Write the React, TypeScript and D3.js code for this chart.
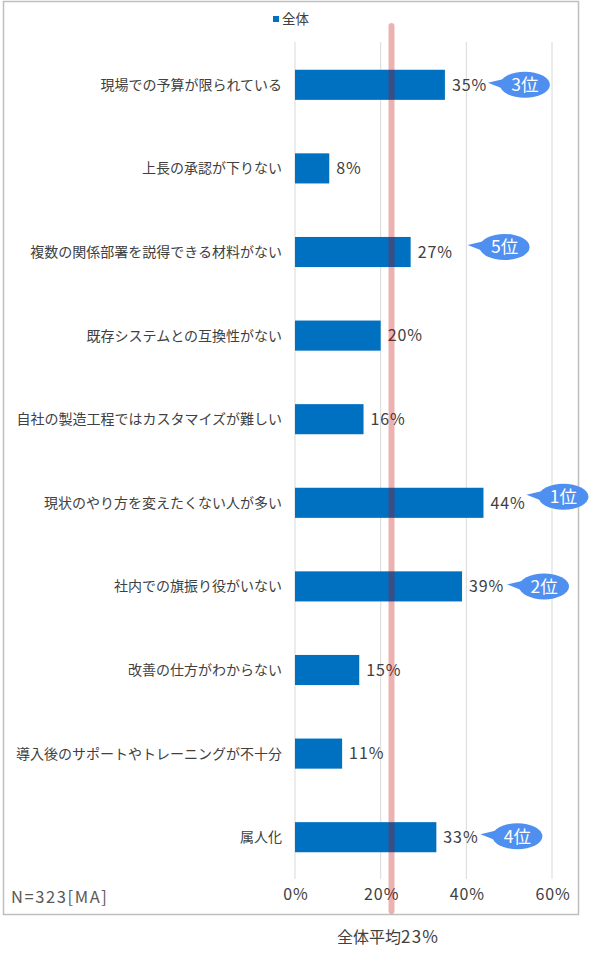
import * as d3 from 'd3';
import React from 'react';

const width = 595;
const height = 954;
const margin = { top: 43, right: 43, bottom: 75, left: 295 };

const categories = [
  '現場での予算が限られている',
  '上長の承認が下りない',
  '複数の関係部署を説得できる材料がない',
  '既存システムとの互換性がない',
  '自社の製造工程ではカスタマイズが難しい',
  '現状のやり方を変えたくない人が多い',
  '社内での旗振り役がいない',
  '改善の仕方がわからない',
  '導入後のサポートやトレーニングが不十分',
  '属人化',
];
const values = [35, 8, 27, 20, 16, 44, 39, 15, 11, 33];
const ticks = [0, 20, 40, 60];
const average = 23;

// rank callouts: row index -> label
const rankRows = [5, 6, 0, 9, 2];
const rankLabels = ['1位', '2位', '3位', '4位', '5位'];
const rankGap = [80, 82, 80, 81, 94];
const rankLift = [-6, 0, 0, -1, -5];

const seriesName = '全体';
const sampleNote = 'N=323[MA]';
const averageLabel = '全体平均';

const font = "'Noto Sans CJK JP', 'Noto Sans', sans-serif";
const textColor = '#404040';

export default function App() {
  const x = d3
    .scaleLinear()
    .domain([0, 60])
    .range([margin.left, 552]);
  const y = d3
    .scaleBand<string>()
    .domain(categories)
    .range([margin.top, height - margin.bottom])
    .paddingInner(0.64)
    .paddingOuter(0.32);
  const bw = y.bandwidth();

  return (
    <div style={{ position: 'absolute', left: 0, top: 0 }}>
      <svg width={width} height={height} style={{ display: 'block', fontFamily: font }}>
        <rect x={0} y={0} width={width} height={height} fill="#fff" />
        <rect x={3.5} y={1.5} width={575} height={913} fill="none" stroke="#bfbfbf" strokeWidth={1.5} />

        {/* legend */}
        <rect x={273} y={16} width={6} height={6} fill="#0070c0" />
        <text x={282} y={24} fontSize={13.5} fill={textColor}>{seriesName}</text>

        {/* grid */}
        {ticks.map(t => (
          <line key={t} x1={x(t)} x2={x(t)} y1={42} y2={879} stroke="#d9d9d9" strokeWidth={1} />
        ))}

        {/* bars */}
        {categories.map((c, i) => (
          <g key={c}>
            <rect x={x(0)} y={y(c)} width={x(values[i]) - x(0)} height={bw} fill="#0070c0" />
            <text
              x={282}
              y={(y(c) as number) + bw / 2}
              dy="0.35em"
              textAnchor="end"
              fontSize={14}
              fill={textColor}
            >
              {c}
            </text>
            <text
              x={x(values[i]) + 7}
              y={(y(c) as number) + bw / 2}
              dy="0.36em"
              fontSize={16}
              letterSpacing={0.9}
              fill={textColor}
            >
              {values[i]}%
            </text>
          </g>
        ))}

        {/* tick labels */}
        {ticks.map(t => (
          <text key={t} x={x(t) + 1} y={894} dy="0.35em" textAnchor="middle" fontSize={16} letterSpacing={0.9} fill={textColor}>
            {t}%
          </text>
        ))}

        <text x={11} y={897} dy="0.35em" fontSize={16.5} letterSpacing={1.6} fill="#595959">{sampleNote}</text>

        {/* average line */}
        <line
          x1={x(average) - 2}
          x2={x(average) - 2}
          y1={26}
          y2={911}
          stroke="#c00000"
          strokeOpacity={0.3}
          strokeWidth={6}
          strokeLinecap="round"
        />
        <text x={337} y={937} dy="0.35em" fontSize={16} fill={textColor}>
          {averageLabel}
          <tspan fontSize={17} letterSpacing={1.2}>{average}%</tspan>
        </text>

        {/* rank callouts */}
        {rankRows.map((r, k) => {
          const cx = x(values[r]) + rankGap[k];
          const cy = (y(categories[r]) as number) + bw / 2 + rankLift[k];
          return (
            <g key={k}>
              <path
                d={`M${cx - 20},${cy - 6} L${cx - 37},${cy - 2} L${cx - 19},${cy + 5} Z`}
                fill="#4f8ff0"
              />
              <ellipse cx={cx} cy={cy} rx={25} ry={13} fill="#4f8ff0" />
              <text x={cx} y={cy} dy="0.36em" textAnchor="middle" fontSize={17.5} fill="#fff">
                {rankLabels[k]}
              </text>
            </g>
          );
        })}
      </svg>
    </div>
  );
}
